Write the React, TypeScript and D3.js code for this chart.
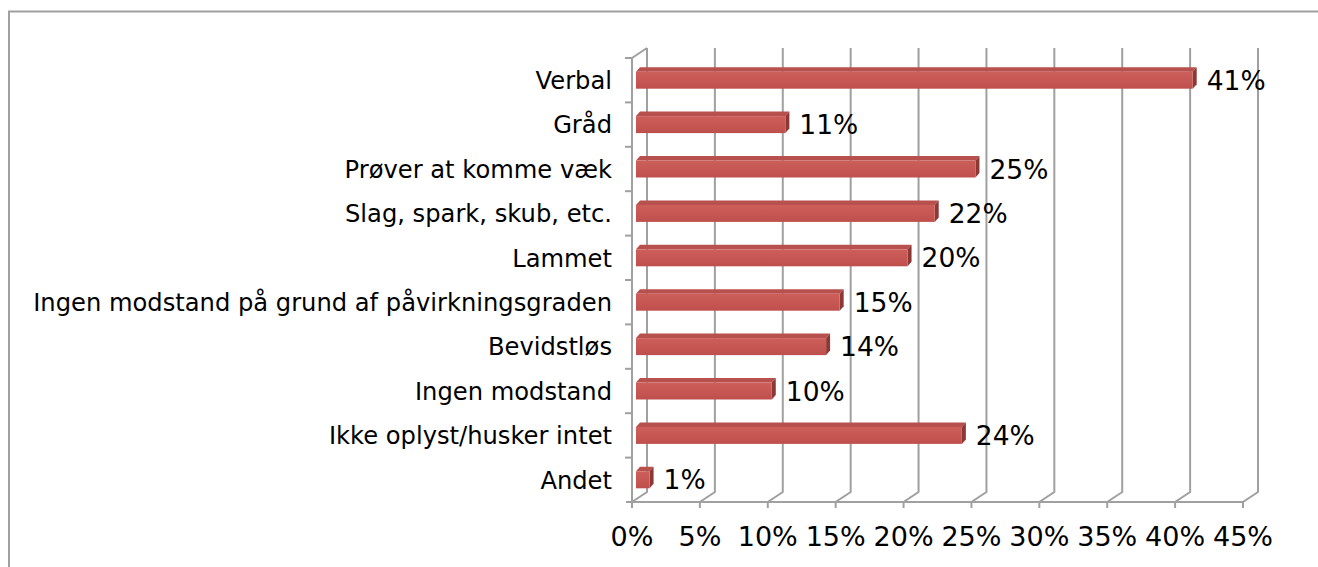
import React, { useRef, useEffect } from 'react';
import * as d3 from 'd3';

// categories top to bottom, values in percent
const categories = [
  'Verbal',
  'Gråd',
  'Prøver at komme væk',
  'Slag, spark, skub, etc.',
  'Lammet',
  'Ingen modstand på grund af påvirkningsgraden',
  'Bevidstløs',
  'Ingen modstand',
  'Ikke oplyst/husker intet',
  'Andet',
];
const values = [41, 11, 25, 22, 20, 15, 14, 10, 24, 1];
const ticks = [0, 5, 10, 15, 20, 25, 30, 35, 40, 45];

const W = 1318;
const H = 567;

const App = () => {
  const chartRef = useRef<SVGSVGElement | null>(null);

  useEffect(() => {
    const svg = d3.select(chartRef.current);
    svg.selectAll('*').remove();

    // depth of the 3d box (back wall relative to front)
    const dx = 15, dy = -10;
    const x = d3.scaleLinear().domain([0, 45]).range([632, 1243]);
    const y = d3.scaleBand<string>().domain(categories).range([58, 502]);
    const floorY = 502;
    const grid = '#a0a0a0';

    // outer frame
    svg.append('rect')
      .attr('x', 9).attr('y', 11.5)
      .attr('width', W).attr('height', H)
      .attr('fill', 'none')
      .attr('stroke', '#a0a0a0')
      .attr('stroke-width', 2);

    const g = svg.append('g');

    // back wall gridlines + floor slants
    ticks.forEach(t => {
      const bx = x(t) + dx;
      g.append('path')
        .attr('d', `M${bx},${y.range()[0] + dy}L${bx},${floorY + dy}L${x(t)},${floorY}L${x(t)},${floorY + 6}`)
        .attr('fill', 'none')
        .attr('stroke', grid)
        .attr('stroke-width', 2);
    });

    // floor front edge
    g.append('line')
      .attr('x1', x(0) - 6).attr('x2', x(45))
      .attr('y1', floorY).attr('y2', floorY)
      .attr('stroke', grid).attr('stroke-width', 2);

    // left wall
    g.append('path')
      .attr('d', `M${x(0)},${floorY}L${x(0)},${y.range()[0]}L${x(0) + dx},${y.range()[0] + dy}`)
      .attr('fill', 'none')
      .attr('stroke', grid)
      .attr('stroke-width', 2);

    // category ticks on left wall
    const bounds = categories.map(c => y(c) as number);
    g.selectAll('line.ytick')
      .data(bounds)
      .enter()
      .append('line')
      .attr('class', 'ytick')
      .attr('x1', x(0) - 7).attr('x2', x(0))
      .attr('y1', d => d).attr('y2', d => d)
      .attr('stroke', grid).attr('stroke-width', 2);

    // bars, sitting at a small depth inside the box
    const f1x = 4, f1y = 0, bdx = 4, bdy = -4.5;
    const bh = 17;
    const bars = g.selectAll('g.bar')
      .data(categories.map((c, i) => ({ c, v: values[i] })))
      .enter()
      .append('g')
      .attr('class', 'bar');

    const defs = svg.append('defs');
    const grad = defs.append('linearGradient')
      .attr('id', 'barfront')
      .attr('x1', 0).attr('y1', 0).attr('x2', 0).attr('y2', 1);
    grad.append('stop').attr('offset', '0%').attr('stop-color', '#cd5f5b');
    grad.append('stop').attr('offset', '100%').attr('stop-color', '#bf4f4c');

    bars.each(function (d) {
      const sel = d3.select(this);
      const cy = (y(d.c) as number) + y.bandwidth() / 2;
      const x0 = x(0) + f1x;
      const x1 = x(d.v) + f1x;
      const y0 = cy - bh / 2 + f1y;
      const y1 = y0 + bh;
      // top face
      sel.append('path')
        .attr('d', `M${x0},${y0}L${x0 + bdx},${y0 + bdy}L${x1 + bdx},${y0 + bdy}L${x1},${y0}Z`)
        .attr('fill', '#b8504d');
      // side face
      sel.append('path')
        .attr('d', `M${x1},${y0}L${x1 + bdx},${y0 + bdy}L${x1 + bdx},${y1 + bdy}L${x1},${y1}Z`)
        .attr('fill', '#8e3835');
      // front face
      sel.append('rect')
        .attr('x', x0).attr('y', y0)
        .attr('width', x1 - x0).attr('height', bh)
        .attr('fill', 'url(#barfront)');
      // value label
      sel.append('text')
        .attr('x', x1 + bdx + 10)
        .attr('y', cy)
        .attr('dy', '0.36em')
        .attr('font-size', 26.5)
        .text(d.v + '%');
    });

    // category labels
    g.selectAll('text.cat')
      .data(categories)
      .enter()
      .append('text')
      .attr('class', 'cat')
      .attr('x', 612)
      .attr('y', d => (y(d) as number) + y.bandwidth() / 2)
      .attr('dy', '0.36em')
      .attr('text-anchor', 'end')
      .attr('font-size', 24.2)
      .text(d => d);

    // x tick labels
    g.selectAll('text.xt')
      .data(ticks)
      .enter()
      .append('text')
      .attr('class', 'xt')
      .attr('x', d => x(d))
      .attr('y', 546)
      .attr('text-anchor', 'middle')
      .attr('font-size', 27)
      .text(d => d + '%');
  }, []);

  return (
    <svg
      ref={chartRef}
      width={W}
      height={H}
      style={{ position: 'absolute', left: 0, top: 0, background: '#fff' }}
      fontFamily="'DejaVu Sans', Verdana, sans-serif"
      fill="#000"
    />
  );
};

export default App;
